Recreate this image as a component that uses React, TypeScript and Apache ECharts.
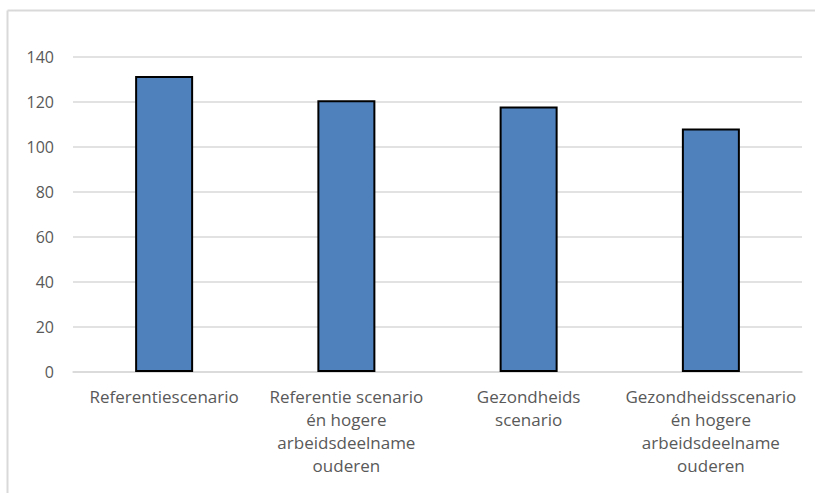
import React, { useEffect, useRef } from "react";
import * as echarts from "echarts";

const categories = [
  "Referentiescenario",
  "Referentie scenario\nén hogere\narbeidsdeelname\nouderen",
  "Gezondheids\nscenario",
  "Gezondheidsscenario\nén hogere\narbeidsdeelname\nouderen",
];
const values = [131.6, 120.8, 118, 108.2];
const yMin = 0;
const yMax = 140;
const yStep = 20;

export default function App() {
  const ref = useRef<HTMLDivElement>(null);
  useEffect(() => {
    if (!ref.current) return;
    const chart = echarts.init(ref.current, null, { renderer: "svg" });
    const font = "'Open Sans', 'Noto Sans', sans-serif";
    chart.setOption({
      animation: false,
      backgroundColor: "#ffffff",
      graphic: [
        {
          type: "line",
          shape: { x1: 7.5, y1: 10.5, x2: 815, y2: 10.5 },
          style: { stroke: "#d9d9d9", lineWidth: 2 },
          silent: true,
        },
        {
          type: "line",
          shape: { x1: 7.5, y1: 10.5, x2: 7.5, y2: 493 },
          style: { stroke: "#d9d9d9", lineWidth: 2 },
          silent: true,
        },
      ],
      grid: { left: 73, right: 13, top: 57, bottom: 121, containLabel: false },
      xAxis: {
        type: "category",
        data: categories,
        axisLine: { lineStyle: { color: "#d9d9d9", width: 1.5 } },
        axisTick: { show: false },
        axisLabel: {
          interval: 0,
          margin: 13,
          color: "#595959",
          fontFamily: font,
          fontSize: 17,
          lineHeight: 23,
          align: "center",
        },
      },
      yAxis: {
        type: "value",
        min: yMin,
        max: yMax,
        interval: yStep,
        axisLine: { show: false },
        axisTick: { show: false },
        splitLine: { lineStyle: { color: "#d9d9d9", width: 1.5 } },
        axisLabel: {
          margin: 19,
          color: "#595959",
          fontFamily: font,
          fontSize: 16,
        },
      },
      series: [
        {
          type: "bar",
          data: values,
          barWidth: 58,
          itemStyle: {
            color: "#4f81bd",
            borderColor: "#000000",
            borderWidth: 2,
          },
        },
      ],
    });
    return () => chart.dispose();
  }, []);
  return (
    <div
      ref={ref}
      style={{ position: "fixed", left: 0, top: 0, width: 815, height: 493 }}
    />
  );
}
